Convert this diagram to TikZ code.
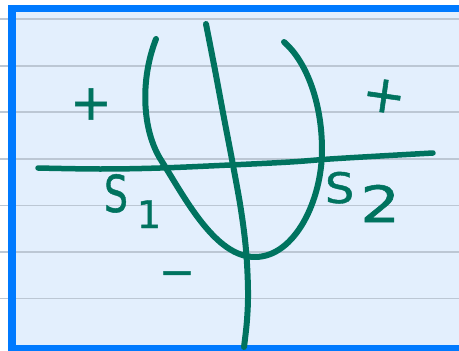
\documentclass[tikz,border=0pt]{standalone}
\usepackage{fontspec}
\setmainfont{DejaVu Sans}
\newfontfamily\hand{DejaVu Sans}[FakeBold=1]
\definecolor{frameblue}{RGB}{0,122,255}
\definecolor{paper}{RGB}{227,239,253}
\definecolor{rule}{RGB}{188,199,212}
\definecolor{ink}{RGB}{0,115,95}
\tikzset{
  stroke/.style={draw=ink,line width=6pt,line cap=round,line join=round},
  label/.style={text=ink,inner sep=0pt,outer sep=0pt},
}
\begin{document}
\begin{tikzpicture}[x=1pt,y=-1pt]
\useasboundingbox (0,0) rectangle (459,351);
% page
\fill[white] (0,0) rectangle (459,351);
\fill[frameblue] (8,4.5) rectangle (470,360);
\fill[paper] (15.5,12) rectangle (470,345);
% ruled lines
\foreach \y in {19,66,112,159,205.5,252,298.5}
  \draw[rule,line width=1.6pt] (0,\y) -- (459,\y);
\fill[frameblue] (8,4.5) rectangle (15.5,351);
% parabola
\coordinate (pTL) at (156,39);
\coordinate (pL) at (161,160);
\coordinate (pB) at (255,257);
\coordinate (pR) at (322,150);
\coordinate (pTR) at (284,42);
\draw[stroke] (pTL) .. controls (140,80) and (142,130) .. (pL)
  .. controls (185,198) and (215,257) .. (pB)
  .. controls (295,257) and (322,200) .. (pR)
  .. controls (322,100) and (305,60) .. (pTR);
% vertical axis
\draw[stroke] plot[smooth,tension=0.6] coordinates {
  (206,24) (215,70) (224,118) (233,165) (241,210) (246,250) (248,290) (247,320) (244,347)};
% horizontal axis
\draw[stroke,line width=5.5pt] plot[smooth,tension=0.6] coordinates {
  (38,168) (100,169) (160,168) (230,165) (290,162) (330,159) (380,156) (433,153)};
% labels
\node[label,font=\hand\fontsize{50}{50}\selectfont] (plusL) at (91,104) {+};
\node[label,font=\hand\fontsize{52}{52}\selectfont,rotate=-8] (plusR) at (384,96) {+};
\node[label,font=\hand\fontsize{43}{43}\selectfont] (minus) at (177,279) {−};
\node[label,anchor=base west,font=\hand] (s1) at (104,212)
  {\fontsize{51}{51}\selectfont\scalebox{0.74}[1]{S}\hspace{9pt}\raisebox{-16pt}{\fontsize{38}{38}\selectfont 1}};
\node[label,anchor=base west,font=\hand] (s2) at (325,203)
  {\fontsize{42}{42}\selectfont\scalebox{1.1}[1]{S}\hspace{6pt}\raisebox{-19pt}{\fontsize{50}{50}\selectfont\scalebox{1.25}[1]{2}}};
\end{tikzpicture}
\end{document}
